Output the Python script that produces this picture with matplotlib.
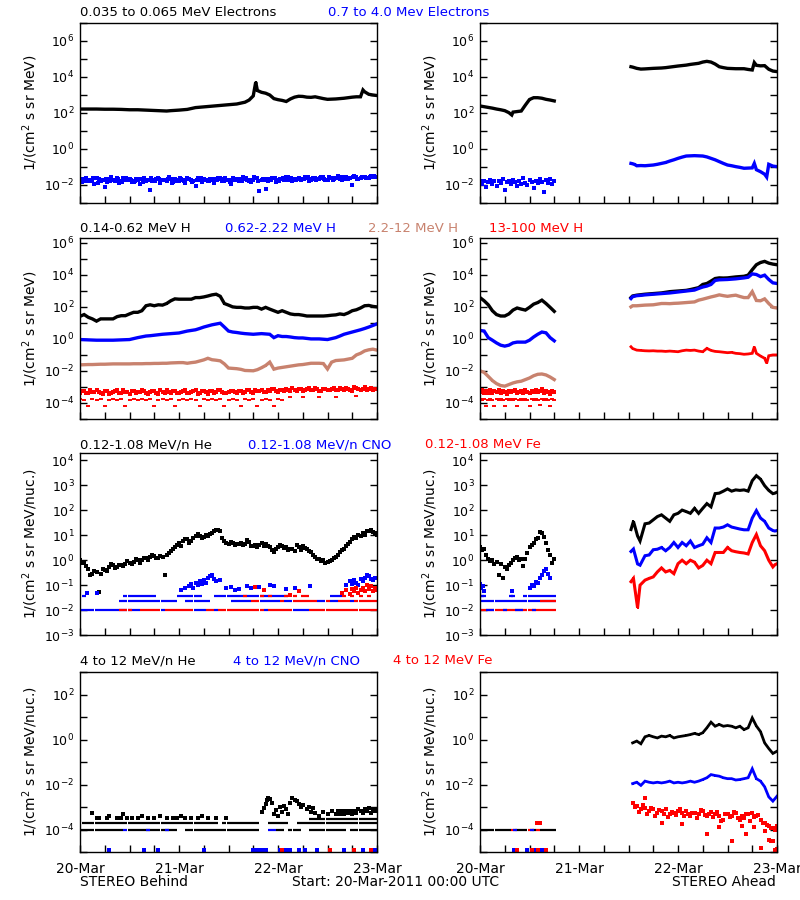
import numpy as np
import matplotlib
matplotlib.use("Agg")
import matplotlib.pyplot as plt
from matplotlib.ticker import FixedLocator, FuncFormatter, NullLocator

N = None
BLACK, BLUE, SIENNA, RED = "#000000", "#0000FF", "#C8826E", "#FF0000"

# ---------------- data (log10 of flux), hours since 20-Mar-2011 00:00 ----------------
# Row 1: electrons
e1_beh_h = [0,2,4,6,8,10,12,14,16,18,20,21,22,24,26,27,28,30,32,34,36,38,40,41,42,42.6,43,44,45,46,47,48,49,50,51,52,53,54,55,56,57,58,59,60,61,62,63,64,65,66,67,68,68.6,69,70,71,72]
e1_beh_v = [2.22,2.22,2.22,2.21,2.21,2.20,2.18,2.18,2.16,2.14,2.12,2.11,2.13,2.16,2.20,2.25,2.30,2.34,2.38,2.42,2.46,2.50,2.60,2.72,2.95,3.72,3.25,3.15,3.10,3.00,2.80,2.74,2.70,2.64,2.78,2.88,2.93,2.92,2.88,2.87,2.90,2.85,2.80,2.76,2.77,2.78,2.80,2.82,2.85,2.88,2.90,2.90,3.28,3.18,3.04,3.00,2.97]
e2_beh_v = [-1.72,-1.65,-1.80,-1.70,-1.62,-1.75,-2.10,-1.68,-1.74,-1.60,-1.78,-1.70,-1.66,-1.82,-1.72,-1.64,-1.76,-2.30,-1.70,-1.62,-1.74,-1.80,-1.68,-1.66,-1.76,-1.70,-1.60,-1.74,-2.05,-1.70,-1.64,-1.78,-1.72,-1.66,-1.60,-1.75,-1.70,-1.62,-1.72,-1.68,-1.64,-1.76,-1.70,-1.60,-1.72,-2.20,-1.66,-1.60,-1.70,-1.64,-1.58,-1.72,-1.66,-1.60,-1.68,-1.62,-1.74,-1.60,-1.66,-1.58,-1.70,-1.62,-1.60,-1.68,-1.56,-1.64,-2.00,-1.58,-1.62,-1.55,-1.60,-1.54,-1.58]
e2_beh_v_half = [-1.85,-1.60,-1.76,-1.92,-1.66,-1.70,-1.84,-1.58,-1.78,-1.90,-1.62,-1.74,-1.86,-1.68,-1.95,-1.60,-1.72,-1.80,-1.66,-1.88,-1.70,-1.58,-1.82,-1.75,-1.64,-1.90,-1.68,-1.78,-1.62,-1.84,-1.72,-1.66,-1.88,-1.60,-1.76,-1.70,-1.94,-1.64,-1.80,-1.58,-1.74,-1.86,-1.62,-2.35,-1.70,-1.78,-1.60,-1.84,-1.66,-1.72,-1.56,-1.80,-1.64,-1.70,-1.58,-1.76,-1.62,-1.68,-1.54,-1.72,-1.60,-1.66,-1.52,-1.70,-1.58,-1.62,-1.50,-1.66,-1.56,-1.60,-1.52,-1.58]
e2_beh_v_q = [-1.66,-1.78,-1.70,-1.60,-1.88,-1.74,-1.64,-1.80,-1.70,-1.66,-1.82,-1.60,-1.72,-1.76,-1.64,-1.86,-1.70,-1.62,-1.78,-1.68,-1.74,-1.64,-1.90,-1.70,-1.60,-1.76,-1.66,-1.84,-1.72,-1.62,-1.70,-1.80,-1.64,-1.74,-1.68,-1.60,-1.82,-1.70,-1.66,-1.76,-1.62,-1.70,-1.58,-1.78,-1.66,-1.64,-1.72,-1.60,-1.76,-1.62,-1.70,-1.60,-1.74,-1.64,-1.68,-1.58,-1.66,-1.72,-1.60,-1.64,-1.56,-1.70,-1.62,-1.58,-1.66,-1.60,-1.54,-1.68,-1.58,-1.62,-1.56,-1.52]
e1_ahd_h1 = [0,1,2,3,4,5,6,7,7.7,8,9,10,11,12,13,14,15,16,17,18]
e1_ahd_v1 = [2.39,2.35,2.31,2.27,2.22,2.18,2.13,2.02,1.89,2.05,2.08,2.11,2.44,2.75,2.85,2.85,2.82,2.76,2.72,2.67]
e1_ahd_h2 = [36.6,37,38,39,40,42,44,45,46,48,50,51,52,53,54,55,56,57,58,59,60,62,64,65,66,66.5,67,68,69,70,71,72]
e1_ahd_v2 = [4.57,4.55,4.48,4.44,4.45,4.48,4.50,4.52,4.55,4.61,4.66,4.70,4.73,4.76,4.83,4.87,4.83,4.72,4.57,4.52,4.48,4.46,4.46,4.42,4.39,4.80,4.65,4.62,4.63,4.43,4.33,4.30]
e2_ahd_v1 = [-1.80,-1.95,-1.75,-2.10,-1.85,-1.70,-1.95,-1.80,-2.05,-1.75,-1.90,-1.65,-2.30,-1.85,-1.80,-1.95,-1.70,-1.85,-2.05,-1.78,-1.92,-1.62,-1.88,-2.00,-1.74,-1.84,-2.15,-1.76,-1.90,-1.68,-1.86,-2.40,-1.72,-1.88,-1.66,-1.94,-1.80]
e2_ahd_h2 = [36.6,37,37.5,38,39,40,41,42,43,44,45,46,47,48,49,50,51,52,53,54,55,56,57,58,59,60,61,62,63,64,65,66,66.5,67,68,69,69.5,70,71,72]
e2_ahd_v2 = [-0.80,-0.82,-0.86,-0.93,-0.92,-0.93,-0.91,-0.89,-0.85,-0.80,-0.75,-0.67,-0.60,-0.52,-0.45,-0.39,-0.38,-0.37,-0.38,-0.39,-0.44,-0.52,-0.60,-0.70,-0.80,-0.89,-0.93,-0.98,-1.02,-1.07,-1.06,-1.05,-0.80,-1.15,-1.26,-1.40,-1.56,-0.85,-0.95,-0.98]

# Row 2: protons
h1_beh_v = [1.41,1.52,1.35,1.25,1.11,1.25,1.25,1.25,1.25,1.39,1.45,1.45,1.56,1.66,1.66,1.76,2.07,2.13,2.07,2.13,2.11,2.21,2.38,2.50,2.48,2.48,2.48,2.48,2.58,2.58,2.62,2.68,2.75,2.79,2.66,2.21,2.11,2.00,1.97,1.97,1.93,1.93,1.97,1.97,1.86,1.97,1.86,1.76,1.66,1.76,1.66,1.56,1.52,1.52,1.48,1.43,1.43,1.43,1.43,1.43,1.45,1.48,1.50,1.56,1.52,1.62,1.76,1.82,1.93,2.07,2.09,2.03,2.00]
h2_beh_v = [-0.04,-0.05,-0.06,-0.07,-0.08,-0.08,-0.08,-0.08,-0.08,-0.07,-0.06,-0.05,-0.04,0.02,0.08,0.13,0.18,0.20,0.23,0.26,0.29,0.31,0.33,0.35,0.37,0.43,0.49,0.53,0.57,0.65,0.74,0.81,0.88,0.93,0.98,0.74,0.49,0.43,0.40,0.36,0.33,0.31,0.29,0.31,0.33,0.31,0.29,0.08,0.20,0.15,0.15,0.12,0.08,0.06,0.06,0.03,0.00,0.00,0.00,-0.02,-0.04,0.02,0.08,0.18,0.29,0.36,0.43,0.50,0.57,0.65,0.74,0.84,0.94]
h3_beh_v = [-1.62,-1.61,-1.60,-1.60,-1.59,-1.58,-1.58,-1.57,-1.56,-1.56,-1.56,-1.56,-1.56,-1.55,-1.55,-1.55,-1.54,-1.54,-1.53,-1.53,-1.52,-1.52,-1.50,-1.49,-1.48,-1.48,-1.52,-1.48,-1.45,-1.38,-1.31,-1.21,-1.30,-1.33,-1.37,-1.56,-1.82,-1.84,-1.86,-1.90,-1.97,-1.98,-1.99,-1.92,-1.80,-1.66,-1.45,-1.89,-1.82,-1.78,-1.74,-1.70,-1.66,-1.62,-1.60,-1.56,-1.52,-1.52,-1.52,-1.54,-1.88,-1.45,-1.35,-1.33,-1.31,-1.26,-1.21,-1.00,-0.90,-0.75,-0.68,-0.64,-0.70]
h4_beh_v = [-3.35,-3.25,-3.40,-3.30,-3.20,-3.38,-3.28,-3.45,-3.32,-3.22,-3.36,-3.30,-3.42,-3.25,-3.34,-3.20,-3.40,-3.30,-3.26,-3.44,-3.32,-3.22,-3.38,-3.28,-3.35,-3.24,-3.40,-3.30,-3.20,-3.36,-3.28,-3.42,-3.25,-3.33,-3.22,-3.38,-3.30,-3.26,-3.40,-3.24,-3.32,-3.20,-3.36,-3.28,-3.18,-3.34,-3.25,-3.15,-3.30,-3.22,-3.12,-3.28,-3.18,-3.10,-3.24,-3.15,-3.20,-3.08,-3.26,-3.14,-3.20,-3.10,-3.22,-3.05,-3.16,-3.12,-3.24,-3.08,-3.18,-3.02,-3.14,-3.20,-3.10]
h4_beh_v_half = [-3.28,-3.40,-3.22,-3.34,-3.30,-3.45,-3.24,-3.36,-3.28,-3.40,-3.20,-3.34,-3.26,-3.38,-3.30,-3.24,-3.42,-3.28,-3.35,-3.22,-3.38,-3.30,-3.25,-3.40,-3.32,-3.20,-3.36,-3.28,-3.42,-3.24,-3.34,-3.26,-3.38,-3.20,-3.30,-3.40,-3.24,-3.34,-3.28,-3.36,-3.22,-3.30,-3.18,-3.26,-3.34,-3.20,-3.12,-3.28,-3.16,-3.24,-3.20,-3.08,-3.26,-3.14,-3.22,-3.06,-3.18,-3.12,-3.24,-3.10,-3.16,-3.04,-3.20,-3.12,-3.08,-3.22,-3.02,-3.14,-3.10,-3.18,-3.06,-3.12]
h4_beh_low = [-3.75,-3.83,-4.20,-3.75,-3.83,-3.75,-4.20,-3.83,-3.75,-3.83,-3.75,-4.20,-3.83,-3.75,-3.83,-3.75,-3.83,-3.75,-4.20,-3.83,-3.75,-3.83,-3.75,-4.20,-3.83,-3.75,-3.83,-3.75,-3.83,-4.20,-3.75,-3.83,-3.75,-3.83,-3.75,-4.20,-3.83,-3.75,-3.83,-4.20,-3.75,-3.83,-3.75,-4.20,-3.83,-3.75,-3.83,-4.20,-3.75,-3.83,N,-3.62,N,N,-3.60,N,N,N,-3.62,N,N,N,-3.60,N,N,N,N,-3.58,N,N,N,N,N]
h1_ahd_v1 = [2.58,2.38,2.13,1.76,1.52,1.43,1.43,1.56,1.80,1.93,1.86,1.80,1.97,2.17,2.27,2.42,2.21,1.97,1.72]
h2_ahd_v1 = [0.53,0.49,0.08,-0.08,-0.25,-0.39,-0.45,-0.39,-0.25,-0.20,-0.20,-0.20,-0.08,0.12,0.29,0.43,0.38,0.08,-0.12]
h3_ahd_v1 = [-1.99,-2.09,-2.34,-2.60,-2.79,-2.91,-2.95,-2.85,-2.75,-2.68,-2.64,-2.54,-2.44,-2.30,-2.21,-2.19,-2.25,-2.38,-2.54]
h4_ahd_v1 = [-3.30,-3.20,-3.38,-3.25,-3.35,-3.22,-3.40,-3.28,-3.32,-3.20,-3.36,-3.26,-3.30,-3.42,-3.24,-3.34,-3.28,-3.20,-3.38,-3.30,-3.24,-3.36,-3.22,-3.32,-3.40,-3.26,-3.30,-3.20,-3.34,-3.28,-3.15,-3.38,-3.24,-3.30,-3.42,-3.26,-3.32]
h4_ahd_low1 = [-3.75,-3.83,-3.75,-4.20,-3.83,-3.75,-3.83,-4.20,-3.75,-3.83,-3.75,-3.83,-4.20,-3.75,-3.83,-3.75,-3.83,-3.75,-4.20,-3.83,-3.75,-3.83,-3.75,-3.83,-4.20,-3.75,-3.83,-3.75,-3.83,-4.10,-3.75,-3.83,-3.75,-3.83,-4.20,-3.75,-3.83]
h_ahd_h2 = [36.6,37,38,39,40,41,42,43,44,45,46,47,48,49,50,51,52,53,54,55,56,57,58,59,60,61,62,63,64,65,66,67,68,69,70,71,72]
h1_ahd_v2 = [2.58,2.68,2.73,2.76,2.79,2.81,2.83,2.85,2.87,2.91,2.95,2.97,2.99,3.01,3.03,3.08,3.14,3.20,3.40,3.46,3.61,3.77,3.81,3.80,3.81,3.84,3.87,3.89,3.91,3.98,4.32,4.63,4.77,4.84,4.73,4.67,4.63]
h2_ahd_v2 = [2.52,2.64,2.70,2.72,2.75,2.77,2.79,2.81,2.83,2.85,2.87,2.90,2.93,2.96,2.99,3.02,3.05,3.15,3.24,3.30,3.40,3.65,3.69,3.70,3.71,3.73,3.75,3.78,3.81,3.85,4.06,4.02,3.89,3.98,3.71,3.50,3.46]
h3_ahd_v2 = [2.00,2.07,2.07,2.09,2.11,2.12,2.13,2.17,2.21,2.21,2.20,2.22,2.23,2.25,2.27,2.29,2.31,2.42,2.48,2.55,2.62,2.68,2.75,2.70,2.66,2.70,2.73,2.65,2.58,2.58,2.95,2.40,2.38,2.50,2.21,1.97,1.93]
h4_ahd_h2 = [36.6,37,38,39,40,41,42,43,44,45,46,47,48,49,50,51,52,53,54,55,56,57,58,59,60,61,62,63,64,65,66,66.5,67,68,69,69.5,70,71,72]
h4_ahd_v2 = [-0.49,-0.60,-0.70,-0.72,-0.74,-0.75,-0.74,-0.76,-0.76,-0.78,-0.76,-0.78,-0.80,-0.74,-0.70,-0.72,-0.70,-0.76,-0.80,-0.59,-0.72,-0.78,-0.80,-0.83,-0.86,-0.84,-0.90,-0.92,-0.96,-0.94,-0.90,-0.49,-0.90,-1.07,-1.21,-1.52,-1.05,-1.00,-1.00]

# Row 3: 0.12-1.08 MeV/n heavy ions
he_beh_v = [0.00,-0.08,-0.34,-0.54,-0.47,-0.54,-0.40,-0.27,-0.21,-0.27,-0.21,-0.14,-0.12,-0.08,0.00,0.00,0.08,0.12,0.18,0.08,0.12,0.21,0.38,0.51,0.71,0.77,0.84,0.77,0.97,0.99,0.94,0.99,1.10,1.23,1.16,0.77,0.64,0.71,0.64,0.71,0.64,0.73,0.58,0.51,0.71,0.64,0.51,0.31,0.51,0.58,0.51,0.44,0.38,0.51,0.58,0.44,0.31,0.12,0.05,0.00,-0.08,0.00,0.12,0.31,0.44,0.64,0.84,0.90,0.97,1.03,1.19,1.15,1.03]
he_beh_v_half = [-0.10,-0.25,-0.60,-0.45,-1.28,-0.35,-0.45,-0.15,-0.30,-0.20,-0.25,-0.05,-0.15,0.05,-0.10,0.10,0.02,0.20,0.10,0.15,-0.58,0.30,0.45,0.62,0.55,0.85,0.70,0.90,1.05,0.88,1.02,1.05,1.18,1.20,0.90,0.68,0.75,0.60,0.66,0.62,0.80,0.55,0.62,0.60,0.55,0.58,0.40,0.45,0.62,0.50,0.40,0.46,0.60,0.42,0.50,0.36,0.20,0.06,-0.05,-0.12,-0.02,0.08,0.22,0.40,0.55,0.75,0.92,1.00,1.10,1.18,1.22,1.08]
LVL0, LVL1, LVL2 = -1.98, -1.64, -1.45
cno_beh_L0_h = [0,1,2,3,4,5,6,7,8,9,10,11,12,13,14,20,28,29,30,33,45,52,53,54,55]
fe_beh_L0_h = [10,11,12,15,16,17,18,19,21,22,23,24,25,26,27,31,32,34,35,36,37,38,39,40,41,42,43,44,46,47,48,49,50,51,56,57,58,59,60,61,62,63,64,65,66,67,68,69,70,71,72]
cno_beh_L1_h = [10,11,12,13,14,15,16,17,18,19,20,21,22,23,26,27,28,29,30,31,37,38,39,40,41,44,45,46,47,48,50,51,58,59,61,62,66]
fe_beh_L1_h = [42,43,49,52,53,54,55,56,57,60,63,64,65,67,68,69,70,71,72]
cno_beh_L2_h = [1,11,12,13,14,15,16,17,18,24,25,26,27,28,29,33,34,35,36,37,38,39,40,41,42,43,44,45,46,47,48,49,50,61,62,63]
fe_beh_L2_h = [40,44,46,50,52,54,55,64,66,68,70]
cno_beh_hi_h = [1.8,4.0,24.5,25.5,26.5,27.0,27.5,28.0,28.5,29.0,29.5,30.0,30.5,31.0,31.5,32.0,32.5,33.0,34.0,35.5,36.5,37.5,38.5,40.5,41.5,43.5,46.0,47.0,50.0,52.0,55.8,64.5,65.5,66.0,66.5,67.0,67.5,68.0,68.5,69.0,69.5,70.0,70.5,71.0,71.5,72.0]
cno_beh_hi_v = [-1.32,-1.32,-1.20,-1.12,-1.05,-0.95,-1.10,-0.90,-1.00,-0.85,-0.95,-0.80,-0.90,-0.70,-0.62,-0.60,-0.75,-0.85,-0.80,-1.10,-1.06,-1.20,-1.15,-1.05,-1.12,-1.08,-1.00,-1.05,-1.15,-1.12,-1.02,-1.00,-0.85,-0.95,-0.80,-0.90,-1.00,-0.75,-0.85,-0.70,-0.60,-0.65,-0.75,-0.80,-0.70,-0.72]
fe_beh_hi_h = [42.4,44.5,51.0,53.0,63.5,64.5,65.5,66.0,66.5,67.0,67.5,68.0,68.5,69.0,69.5,70.0,70.5,71.0,71.5,72.0]
fe_beh_hi_v = [-1.06,-1.20,-1.39,-1.23,-1.30,-1.20,-1.35,-1.15,-1.25,-1.12,-1.30,-1.20,-1.10,-1.25,-1.00,-1.15,-1.05,-1.22,-1.10,-1.18]
he_ahd_v1 = [0.51,0.44,0.05,0.02,-0.08,-0.14,-0.27,-0.21,0.00,0.12,0.05,0.05,0.51,0.71,0.90,1.10,0.71,0.21,0.05]
he_ahd_v1_half = [0.40,0.20,-0.05,-0.15,-0.60,-0.70,-0.35,-0.10,0.08,0.00,-0.25,0.30,0.60,0.85,1.15,0.95,0.40,-0.10]
cno_ahd_L1_h = [0,1,2,3,4,5,6,7,8,9,10,11,12,13,14,15,16,17,18]
cno_ahd_L2_h = [0,0.5,1,7.5,8,11,12,13,14,15,16,17,18]
fe_ahd_L0_h = [0,1,2,3,4,5,6,7,8,9,10,11,12,13,14,15,16,17,18]
cno_ahd_L0_h = [2,3,6,9,10,13]
fe_ahd_L1_h = [15,16,17,18]
cno_ahd_p1_h = [0.0,0.3,0.7,1.0,7.7,12.0,12.5,13.0,13.5,14.0,14.5,15.0,15.5,16.0,16.5,17.0]
cno_ahd_p1_v = [-0.95,-1.12,-1.05,-1.25,-1.25,-1.12,-1.00,-1.05,-0.86,-0.90,-0.73,-0.60,-0.45,-0.34,-0.55,-0.70]
ion_ahd_h2 = [36.6,37.2,38.2,38.8,40,41,42,43,44,45,46,47,48,49,50,51,52,53,54,55,56,57,58,59,60,61,62,63,64,65,66,67,68,69,70,71,71.5,72]
he_ahd_v2 = [1.23,1.56,0.97,0.77,1.46,1.49,1.62,1.75,1.82,1.69,1.56,1.82,1.88,2.01,1.95,1.88,2.08,1.88,2.08,2.27,2.14,2.67,2.69,2.77,2.86,2.77,2.82,2.80,2.82,2.77,3.19,3.39,3.25,2.99,2.80,2.67,2.69,2.73]
cno_ahd_v2 = [0.35,0.45,-0.15,-0.20,0.18,0.21,0.42,0.44,0.51,0.38,0.51,0.71,0.51,0.71,0.58,0.77,0.51,0.58,0.64,0.90,0.71,1.29,1.29,1.33,1.42,1.33,1.29,1.25,1.22,1.22,1.69,1.99,1.69,1.56,1.29,1.19,1.17,1.19]
fe_ahd_v2 = [-0.86,-0.73,-1.91,-1.00,-0.80,-0.73,-0.67,-0.47,-0.31,-0.47,-0.41,-0.54,-0.14,0.00,-0.14,0.00,-0.08,-0.31,-0.21,0.00,-0.14,0.31,0.31,0.31,0.51,0.38,0.34,0.31,0.29,0.25,0.71,1.03,0.58,0.38,0.00,-0.27,-0.18,-0.14]

# Row 4: 4-12 MeV/n heavy ions
R4_L0, R4_L1, R4_L2 = -3.70, -4.00, -3.53
R4_LOW = -4.90
he4_beh_L0_h = [1,2,3,4,5,6,7,8,9,10,11,12,13,14,15,16,17,18,19,20,21,22,23,24,25,26,27,28,29,30,31,32,33,35,36,37,38,39,40,41,42,43,46,47,48,49,50,53,54,55,56,57,58,59,60,61,62,63,64,65,66,67,68,69,70,71,72]
he4_beh_L1_h = [0,1,2,3,4,5,6,7,8,9,10,12,13,14,15,16,17,18,19,20,21,22,23,26,27,28,29,30,31,32,33,34,35,36,37,38,39,40,41,42,43,48,49,51,52,53,56,57,58,59,60,61,62,63,64,66,67,68,69,70,71,72]
he4_beh_L2_h = [56,57,58,59,60,61,62,63,64,65,66,67,68,69,70,71,72]
cno4_beh_L1_h = [11,16.5,21,46,47]
he4_beh_up_h = [2.8,4.0,4.5,6.5,7.0,9.0,10.0,10.5,11.5,12.5,14.0,15.0,16.5,18.0,19.5,21.0,22.5,23.5,24.5,25.5,27.0,28.5,29.5,31.0,33.0,35.5,44.0,44.5,45.0,45.3,45.6,46.0,46.5,47.0,47.5,48.0,48.5,49.0,49.5,50.0,50.5,51.0,51.5,52.0,52.5,53.0,53.5,54.0,55.0,55.5,56.0,56.5,57.0,58.0,59.0,60.0,61.0,62.0,62.5,63.0,63.5,64.0,64.5,65.0,65.5,66.0,66.5,67.0,67.5,68.0,68.5,69.0,69.5,70.0,70.5,71.0,71.5,72.0]
he4_beh_up_v = [-3.26,-3.48,-3.48,-3.48,-3.40,-3.48,-3.48,-3.30,-3.48,-3.48,-3.48,-3.40,-3.48,-3.48,-3.40,-3.48,-3.48,-3.48,-3.40,-3.48,-3.48,-3.48,-3.40,-3.48,-3.48,-3.48,-3.20,-3.05,-2.85,-2.70,-2.62,-2.65,-2.80,-3.30,-3.15,-3.40,-3.00,-3.20,-2.95,-3.10,-3.30,-2.80,-2.62,-2.70,-2.75,-2.85,-3.00,-2.90,-3.10,-3.00,-3.20,-3.05,-3.25,-3.40,-3.20,-3.30,-3.19,-3.33,-3.19,-3.33,-3.19,-3.33,-3.19,-3.26,-3.19,-3.33,-3.19,-3.26,-3.10,-3.19,-3.26,-3.10,-3.19,-3.04,-3.26,-3.10,-3.19,-3.10]
cno4_beh_low_h = [7.0,15.5,19.0,30.0,42.0,42.5,43.0,43.5,44.0,44.5,45.0,48.5,50.0,51.0,53.0,54.5,57.5,64.0,68.5,71.0,71.5]
fe4_beh_low_h = [49.0,60.5,66.5,70.5]
he4_ahd_L1_h = [0,1,2,3,4,5,6,7,9,10,11,13,15,16,17,18]
fe4_ahd_L1_h = [8,12,14]
cno4_ahd_L1_h = [8.5,12.5]
cno4_ahd_low_h = [8.2,11.5,13.0,13.5,14.5,15.0]
fe4_ahd_low_h = [9.0,12.5,14.0,16.0]
fe4_ahd_mid_h = [13.7,14.5]
he4_ahd_h2 = [37,38,39,40,41,42,43,44,45,46,47,48,49,50,51,52,53,54,55,56,57,58,59,60,61,62,63,64,65,66,67,68,69,70,71,72]
he4_ahd_v2 = [-0.15,-0.07,-0.19,0.12,0.18,0.12,0.07,0.15,0.12,0.18,0.07,0.12,0.15,0.18,0.22,0.27,0.22,0.30,0.52,0.77,0.59,0.67,0.59,0.62,0.59,0.52,0.59,0.44,0.52,0.96,0.60,0.35,-0.15,-0.40,-0.62,-0.52]
cno4_ahd_v2 = [-1.96,-1.90,-2.04,-1.85,-1.90,-1.93,-1.90,-1.93,-1.90,-1.85,-1.93,-1.90,-1.93,-1.90,-1.85,-1.90,-1.85,-1.78,-1.70,-1.56,-1.60,-1.63,-1.70,-1.74,-1.74,-1.80,-1.78,-1.74,-1.70,-1.30,-1.74,-1.85,-2.10,-2.55,-2.74,-2.52]
fe4_ahd_v2 = [-2.81,-2.95,-3.10,-2.59,-3.19,-3.10,-3.26,-3.19,-3.10,-3.33,-3.26,-3.19,-3.26,-3.19,-3.41,-3.26,-3.33,-3.19,-3.41,-3.22,-3.33,-3.41,-3.56,-3.33,-3.41,-3.26,-3.56,-3.48,-3.33,-3.26,-3.41,-3.56,-3.70,-3.85,-3.93,-3.85]
fe4_ahd_v2_half = [-3.00,-3.20,-2.90,-3.30,-3.05,-3.40,-3.15,-3.30,-3.45,-3.20,-3.35,-3.10,-3.40,-3.30,-3.25,-3.50,-3.15,-3.35,-3.30,-3.45,-3.20,-3.60,-3.30,-3.45,-3.20,-3.50,-3.40,-3.30,-3.60,-3.45,-3.35,-3.70,-3.80,-3.95,-4.00]
fe4_ahd_out_h = [40.0,44.0,49.0,55.0,58.0,61.0,63.5,64.5,66.5,68.0,69.0,70.0,70.5,71.0,71.5,72.0]
fe4_ahd_out_v = [-3.05,-3.70,-3.75,-4.22,-3.90,-4.52,-3.85,-4.20,-3.90,-4.81,-4.05,-4.45,-4.52,-4.50,-4.90,-4.85]

# texts
row_titles = [
    [("0.035 to 0.065 MeV Electrons", BLACK, 80), ("0.7 to 4.0 Mev Electrons", BLUE, 328)],
    [("0.14-0.62 MeV H", BLACK, 80), ("0.62-2.22 MeV H", BLUE, 225), ("2.2-12 MeV H", SIENNA, 368), ("13-100 MeV H", RED, 489)],
    [("0.12-1.08 MeV/n He", BLACK, 80), ("0.12-1.08 MeV/n CNO", BLUE, 248), ("0.12-1.08 MeV Fe", RED, 425)],
    [("4 to 12 MeV/n He", BLACK, 80), ("4 to 12 MeV/n CNO", BLUE, 233), ("4 to 12 MeV Fe", RED, 393)],
]
day_labels = ["20-Mar", "21-Mar", "22-Mar", "23-Mar"]
ylabels = ["1/(cm$^2$ s sr MeV)", "1/(cm$^2$ s sr MeV)", "1/(cm$^2$ s sr MeV/nuc.)", "1/(cm$^2$ s sr MeV/nuc.)"]
yranges = [(-3, 7), (-5, 6.3), (-3, 4.3), (-5, 3)]
ylabeled = [[-2, 0, 2, 4, 6], [-4, -2, 0, 2, 4, 6], [-3, -2, -1, 0, 1, 2, 3, 4], [-4, -2, 0, 2]]

# ---------------- figure ----------------
plt.rcParams["font.family"] = ["DejaVu Sans"]
plt.rcParams["mathtext.fontset"] = "dejavusans"
fig = plt.figure(figsize=(8, 9), dpi=100)
W, H = 800.0, 900.0
tops = [23, 238, 453, 672]
bots = [203, 419, 635, 852]
lefts = [80, 480]


def P(v):
    return 10.0 ** np.array(v, dtype=float)


def make_ax(row, col):
    ax = fig.add_axes([lefts[col] / W, 1 - bots[row] / H, 297 / W, (bots[row] - tops[row]) / H])
    lo, hi = yranges[row]
    ax.set_yscale("log")
    ax.set_ylim(10 ** lo, 10 ** hi)
    ax.set_xlim(0, 72)
    exps = np.arange(int(np.ceil(lo)), int(np.floor(hi)) + 1)
    ax.yaxis.set_major_locator(FixedLocator(10.0 ** exps))
    ax.yaxis.set_minor_locator(NullLocator())
    labs = ylabeled[row]
    ax.yaxis.set_major_formatter(FuncFormatter(
        lambda v, p: (r"$10^{%d}$" % int(round(np.log10(v)))) if int(round(np.log10(v))) in labs else ""))
    ax.xaxis.set_major_locator(FixedLocator([0, 24, 48, 72]))
    ax.xaxis.set_minor_locator(FixedLocator([6, 12, 18, 30, 36, 42, 54, 60, 66]))
    if row == 3:
        ax.set_xticklabels(day_labels)
    else:
        ax.set_xticklabels([])
    ax.tick_params(axis="both", which="both", direction="in", length=5, width=1,
                   left=True, right=True, top=False, bottom=True, colors="black")
    ax.tick_params(axis="y", labelsize=9, pad=4)
    ax.tick_params(axis="x", labelsize=10, pad=7)
    for s in ax.spines.values():
        s.set_linewidth(1)
    ax.set_ylabel(ylabels[row], fontsize=10)
    ax.yaxis.set_label_coords(-0.135, 0.5)
    return ax


def curve(ax, h, v, c, lw=2.4):
    ax.plot(h, P(v), color=c, lw=lw, marker="s", ms=1.8, mew=0, solid_joinstyle="miter")


def dots(ax, h, v, c, ms=2.0):
    ax.plot(h, P(v), ls="none", marker="s", ms=ms, mew=0, color=c)


def dashes(ax, h, v, c, ms=3.2, mew=1.6):
    ax.plot(h, P(v), ls="none", marker="_", ms=ms, mew=mew, color=c)


def level(h, lv):
    return [lv] * len(h)


hrs73 = np.arange(0, 73)
half72 = np.arange(0.5, 72, 1.0)
q72 = np.arange(0.25, 72, 1.0)
hrs19 = np.arange(0, 19)
half37 = np.arange(0, 18.01, 0.5)
half18 = np.arange(0.5, 18, 1.0)
half35 = np.arange(37.5, 72, 1.0)

axes = [[make_ax(r, c) for c in range(2)] for r in range(4)]

# Row 1
a = axes[0][0]
curve(a, e1_beh_h, e1_beh_v, BLACK)
dots(a, hrs73, e2_beh_v, BLUE, ms=2.3)
dots(a, half72, e2_beh_v_half, BLUE, ms=2.3)
dots(a, q72, e2_beh_v_q, BLUE, ms=2.3)
a = axes[0][1]
curve(a, e1_ahd_h1, e1_ahd_v1, BLACK)
curve(a, e1_ahd_h2, e1_ahd_v2, BLACK)
dots(a, half37, e2_ahd_v1, BLUE, ms=2.4)
curve(a, e2_ahd_h2, e2_ahd_v2, BLUE)

# Row 2
a = axes[1][0]
curve(a, hrs73, h1_beh_v, BLACK)
curve(a, hrs73, h2_beh_v, BLUE)
curve(a, hrs73, h3_beh_v, SIENNA)
dots(a, hrs73, h4_beh_v, RED, ms=2.4)
dots(a, half72, h4_beh_v_half, RED, ms=2.4)
dashes(a, hrs73, h4_beh_low, RED, mew=1.4)
a = axes[1][1]
curve(a, hrs19, h1_ahd_v1, BLACK)
curve(a, h_ahd_h2, h1_ahd_v2, BLACK)
curve(a, hrs19, h2_ahd_v1, BLUE)
curve(a, h_ahd_h2, h2_ahd_v2, BLUE)
curve(a, hrs19, h3_ahd_v1, SIENNA)
curve(a, h_ahd_h2, h3_ahd_v2, SIENNA)
dots(a, half37, h4_ahd_v1, RED, ms=2.4)
dashes(a, half37, h4_ahd_low1, RED, mew=1.4)
curve(a, h4_ahd_h2, h4_ahd_v2, RED, lw=2.0)

# Row 3
a = axes[2][0]
dots(a, hrs73, he_beh_v, BLACK, ms=2.7)
dots(a, half72, he_beh_v_half, BLACK, ms=2.7)
dashes(a, cno_beh_L0_h, level(cno_beh_L0_h, LVL0), BLUE)
dashes(a, cno_beh_L1_h, level(cno_beh_L1_h, LVL1), BLUE)
dashes(a, cno_beh_L2_h, level(cno_beh_L2_h, LVL2), BLUE)
dots(a, cno_beh_hi_h, cno_beh_hi_v, BLUE, ms=2.2)
dashes(a, fe_beh_L0_h, level(fe_beh_L0_h, LVL0), RED)
dashes(a, fe_beh_L1_h, level(fe_beh_L1_h, LVL1), RED)
dashes(a, fe_beh_L2_h, level(fe_beh_L2_h, LVL2), RED)
dots(a, fe_beh_hi_h, fe_beh_hi_v, RED, ms=2.2)
a = axes[2][1]
dots(a, hrs19, he_ahd_v1, BLACK, ms=2.7)
dots(a, half18, he_ahd_v1_half, BLACK, ms=2.7)
curve(a, ion_ahd_h2, he_ahd_v2, BLACK, lw=2.2)
dashes(a, fe_ahd_L0_h, level(fe_ahd_L0_h, LVL0), RED)
dashes(a, cno_ahd_L0_h, level(cno_ahd_L0_h, LVL0), BLUE)
dashes(a, cno_ahd_L1_h, level(cno_ahd_L1_h, LVL1), BLUE)
dashes(a, cno_ahd_L2_h, level(cno_ahd_L2_h, LVL2), BLUE)
dashes(a, fe_ahd_L1_h, level(fe_ahd_L1_h, LVL1), RED)
dots(a, cno_ahd_p1_h, cno_ahd_p1_v, BLUE, ms=2.2)
curve(a, ion_ahd_h2, cno_ahd_v2, BLUE, lw=2.2)
curve(a, ion_ahd_h2, fe_ahd_v2, RED, lw=2.2)

# Row 4
a = axes[3][0]
dashes(a, he4_beh_L0_h, level(he4_beh_L0_h, R4_L0), BLACK)
dashes(a, he4_beh_L1_h, level(he4_beh_L1_h, R4_L1), BLACK, ms=3.0)
dashes(a, he4_beh_L2_h, level(he4_beh_L2_h, R4_L2), BLACK)
dashes(a, cno4_beh_L1_h, level(cno4_beh_L1_h, R4_L1), BLUE)
dots(a, he4_beh_up_h, he4_beh_up_v, BLACK, ms=2.2)
dots(a, cno4_beh_low_h, level(cno4_beh_low_h, R4_LOW), BLUE, ms=2.2)
dots(a, fe4_beh_low_h, level(fe4_beh_low_h, R4_LOW), RED, ms=2.2)
a = axes[3][1]
dashes(a, he4_ahd_L1_h, level(he4_ahd_L1_h, R4_L1), BLACK, ms=3.0)
dashes(a, fe4_ahd_L1_h, level(fe4_ahd_L1_h, R4_L1), RED, ms=3.0)
dashes(a, cno4_ahd_L1_h, level(cno4_ahd_L1_h, R4_L1), BLUE, ms=3.0)
dots(a, cno4_ahd_low_h, level(cno4_ahd_low_h, R4_LOW), BLUE, ms=2.2)
dots(a, fe4_ahd_low_h, level(fe4_ahd_low_h, R4_LOW), RED, ms=2.2)
dots(a, fe4_ahd_mid_h, level(fe4_ahd_mid_h, R4_L0), RED, ms=2.2)
curve(a, he4_ahd_h2, he4_ahd_v2, BLACK, lw=2.0)
curve(a, he4_ahd_h2, cno4_ahd_v2, BLUE, lw=2.0)
dots(a, he4_ahd_h2, fe4_ahd_v2, RED, ms=2.4)
dots(a, half35, fe4_ahd_v2_half, RED, ms=2.4)
dots(a, fe4_ahd_out_h, fe4_ahd_out_v, RED, ms=2.4)

# titles
title_y = [13, 229, 445, 661]
for r, items in enumerate(row_titles):
    for txt, col, x in items:
        fig.text(x / W, 1 - title_y[r] / H, txt, color=col, fontsize=9.5, ha="left", va="center")

fig.text(80 / W, 1 - 882 / H, "STEREO Behind", fontsize=10, ha="left", va="center")
fig.text(292 / W, 1 - 882 / H, "Start: 20-Mar-2011 00:00 UTC", fontsize=10, ha="left", va="center")
fig.text(776 / W, 1 - 882 / H, "STEREO Ahead", fontsize=10, ha="right", va="center")

fig.savefig("out.png", dpi=100, facecolor="white")
